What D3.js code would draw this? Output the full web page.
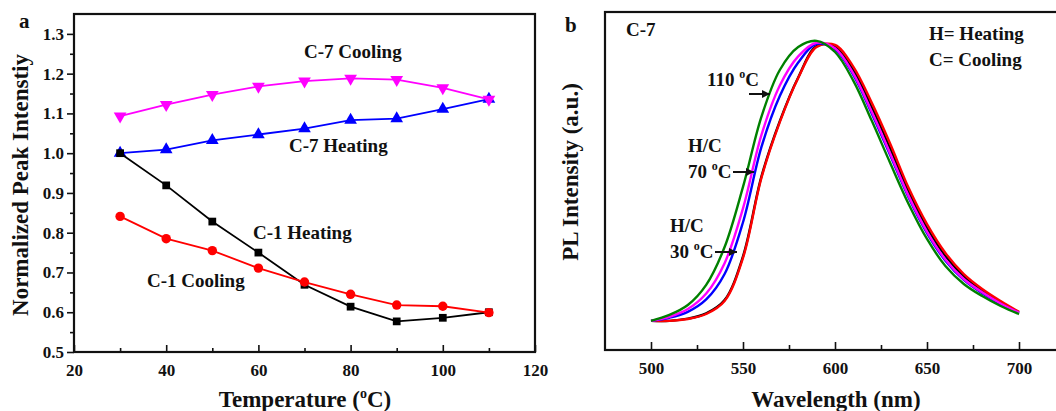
<!DOCTYPE html>
<html>
<head>
<meta charset="utf-8" />
<title>PL thermal quenching</title>
<style>
	body { margin: 0; background: #fff; }
	svg text { font-family: "Liberation Serif", "Times New Roman", serif; font-weight: bold; fill: #111; }
</style>
</head>
<body>
<svg id="chart" width="1056" height="411"></svg>
<script src="https://d3js.org/d3.v7.min.js"></script>
<script>
	// panel a - normalized peak intensity vs temperature
	var temps = [30, 40, 50, 60, 70, 80, 90, 100, 110];
	var c7Cooling = [1.093, 1.122, 1.147, 1.168, 1.181, 1.188, 1.185, 1.164, 1.135];
	var c7Heating = [1.000, 1.009, 1.032, 1.047, 1.062, 1.083, 1.087, 1.111, 1.136];
	var c1Heating = [1.000, 0.919, 0.828, 0.750, 0.669, 0.614, 0.577, 0.586, 0.600];
	var c1Cooling = [0.841, 0.785, 0.755, 0.711, 0.676, 0.645, 0.618, 0.615, 0.599];
	var tempTicks = [20, 40, 60, 80, 100, 120];
	var tempMinor = [30, 50, 70, 90, 110];
	var peakTicks = [0.5, 0.6, 0.7, 0.8, 0.9, 1.0, 1.1, 1.2, 1.3];
	var peakMinor = [0.55, 0.65, 0.75, 0.85, 0.95, 1.05, 1.15, 1.25];

	// panel b - PL spectra of C-7
	var wavelengths = [500, 510, 520, 530, 540, 550, 560, 570, 580, 590, 600, 610, 620, 630, 640, 650, 660, 670, 680, 690, 700];
	var specBlack   = [0.094, 0.094, 0.101, 0.118, 0.161, 0.302, 0.559, 0.738, 0.879, 0.980, 0.978, 0.902, 0.783, 0.650, 0.510, 0.394, 0.303, 0.237, 0.191, 0.154, 0.121];
	var specRed     = [0.094, 0.094, 0.100, 0.116, 0.158, 0.297, 0.555, 0.735, 0.877, 0.977, 0.984, 0.913, 0.797, 0.665, 0.523, 0.406, 0.313, 0.245, 0.197, 0.158, 0.123];
	var specBlue    = [0.094, 0.104, 0.123, 0.163, 0.245, 0.412, 0.654, 0.819, 0.927, 0.987, 0.970, 0.886, 0.762, 0.628, 0.492, 0.377, 0.288, 0.226, 0.183, 0.148, 0.119];
	var specMagenta = [0.094, 0.107, 0.132, 0.182, 0.280, 0.457, 0.693, 0.853, 0.947, 0.991, 0.973, 0.891, 0.768, 0.634, 0.497, 0.382, 0.292, 0.229, 0.186, 0.150, 0.120];
	var specGreen   = [0.094, 0.113, 0.145, 0.210, 0.332, 0.526, 0.752, 0.903, 0.977, 0.997, 0.961, 0.868, 0.739, 0.603, 0.471, 0.358, 0.271, 0.213, 0.174, 0.142, 0.116];
	var waveTicks = [500, 550, 600, 650, 700];
	var waveMinor = [525, 575, 625, 675];

	var svg = d3.select("#chart");

	// ---------- panel a ----------
	var xa = d3.scaleLinear().domain([20, 120]).range([74, 535]);
	var ya = d3.scaleLinear().domain([0.5, 1.35]).range([352, 14]);
	var ga = svg.append("g");

	ga.append("g").attr("transform", "translate(0,352)")
		.call(d3.axisBottom(xa).tickValues(tempMinor).tickSizeInner(-4).tickSizeOuter(0).tickFormat(""));
	ga.append("g").attr("transform", "translate(0,352)")
		.call(d3.axisBottom(xa).tickValues(tempTicks).tickSizeInner(-7).tickSizeOuter(0).tickPadding(12));
	ga.append("g").attr("transform", "translate(74,0)")
		.call(d3.axisLeft(ya).tickValues(peakMinor).tickSizeInner(4).tickSizeOuter(0).tickFormat(""));
	ga.append("g").attr("transform", "translate(74,0)")
		.call(d3.axisLeft(ya).tickValues(peakTicks).tickSizeInner(7).tickSizeOuter(0).tickPadding(3).tickFormat(d3.format(".1f")));

	ga.selectAll(".domain").remove();
	ga.selectAll(".tick line").attr("stroke", "#111").attr("stroke-width", 1.6);
	ga.selectAll(".tick text").style("font-size", "17px");

	ga.append("rect").attr("x", 74).attr("y", 14).attr("width", 461).attr("height", 338)
		.attr("fill", "none").attr("stroke", "#111").attr("stroke-width", 2.2);

	var series = [
		{ vals: c7Heating, color: "#0000ff", sym: d3.symbolTriangle, size: 70, rot: 0 },
		{ vals: c7Cooling, color: "#ff00ff", sym: d3.symbolTriangle, size: 70, rot: 180 },
		{ vals: c1Heating, color: "#000000", sym: d3.symbolSquare, size: 60, rot: 0 },
		{ vals: c1Cooling, color: "#ff0000", sym: d3.symbolCircle, size: 70, rot: 0 }
	];

	var lineA = d3.line().x(function(d, i) { return xa(temps[i]); }).y(function(d) { return ya(d); });

	series.forEach(function(s) {
		ga.append("path").attr("d", lineA(s.vals))
			.attr("fill", "none").attr("stroke", s.color).attr("stroke-width", 1.8);
		ga.selectAll(null).data(s.vals).enter().append("path")
			.attr("d", d3.symbol().type(s.sym).size(s.size))
			.attr("transform", function(d, i) {
				return "translate(" + xa(temps[i]) + "," + ya(d) + ") rotate(" + s.rot + ")";
			})
			.attr("fill", s.color);
	});

	var labelsA = [
		{ t: "C-7 Cooling", x: 304, y: 58 },
		{ t: "C-7 Heating", x: 289, y: 152 },
		{ t: "C-1 Heating", x: 253, y: 239 },
		{ t: "C-1 Cooling", x: 147, y: 287 }
	];
	ga.selectAll(null).data(labelsA).enter().append("text")
		.attr("x", function(d) { return d.x; }).attr("y", function(d) { return d.y; })
		.style("font-size", "19px").text(function(d) { return d.t; });

	ga.append("text").attr("x", 19).attr("y", 28).style("font-size", "21px").text("a");

	ga.append("text").attr("transform", "translate(28,185) rotate(-90)")
		.attr("text-anchor", "middle").style("font-size", "23px")
		.text("Normalized Peak Intenstiy");

	var tt = ga.append("text").attr("x", 305).attr("y", 407)
		.attr("text-anchor", "middle").style("font-size", "23px");
	tt.append("tspan").text("Temperature (");
	tt.append("tspan").attr("dy", -9).style("font-size", "14px").text("o");
	tt.append("tspan").attr("dy", 9).text("C)");

	// ---------- panel b ----------
	var xb = d3.scaleLinear().domain([475, 725]).range([605, 1065]);
	var yb = d3.scaleLinear().domain([0, 1.09]).range([350, 12]);
	var gb = svg.append("g");

	gb.append("g").attr("transform", "translate(0,350)")
		.call(d3.axisBottom(xb).tickValues(waveMinor).tickSizeInner(-5).tickSizeOuter(0).tickFormat(""));
	gb.append("g").attr("transform", "translate(0,350)")
		.call(d3.axisBottom(xb).tickValues(waveTicks).tickSizeInner(-8).tickSizeOuter(0).tickPadding(12));
	gb.selectAll(".domain").remove();
	gb.selectAll(".tick line").attr("stroke", "#111").attr("stroke-width", 1.6);
	gb.selectAll(".tick text").style("font-size", "17px");

	gb.append("rect").attr("x", 605).attr("y", 12).attr("width", 460).attr("height", 338)
		.attr("fill", "none").attr("stroke", "#111").attr("stroke-width", 2.2);

	var lineB = d3.line().curve(d3.curveCatmullRom.alpha(0.5))
		.x(function(d, i) { return xb(wavelengths[i]); }).y(function(d) { return yb(d); });

	var spectra = [
		{ vals: specBlack, color: "#000000" },
		{ vals: specRed, color: "#ff0000" },
		{ vals: specBlue, color: "#0000ff" },
		{ vals: specMagenta, color: "#ff00ff" },
		{ vals: specGreen, color: "#008000" }
	];
	spectra.forEach(function(s) {
		gb.append("path").attr("d", lineB(s.vals))
			.attr("fill", "none").attr("stroke", s.color).attr("stroke-width", 2.4);
	});

	gb.append("text").attr("x", 565).attr("y", 32).style("font-size", "21px").text("b");
	gb.append("text").attr("x", 626).attr("y", 36).style("font-size", "19px").text("C-7");
	gb.append("text").attr("x", 929).attr("y", 40).style("font-size", "19px").text("H= Heating");
	gb.append("text").attr("x", 929).attr("y", 66).style("font-size", "19px").text("C= Cooling");

	function degLabel(x, y, num) {
		var t = gb.append("text").attr("x", x).attr("y", y).style("font-size", "19px");
		t.append("tspan").text(num + " ");
		t.append("tspan").attr("dy", -8).style("font-size", "12px").text("o");
		t.append("tspan").attr("dy", 8).text("C");
	}
	degLabel(707, 86, "110");
	gb.append("text").attr("x", 688).attr("y", 152).style("font-size", "19px").text("H/C");
	degLabel(688, 178, "70");
	gb.append("text").attr("x", 670).attr("y", 232).style("font-size", "19px").text("H/C");
	degLabel(670, 258, "30");

	svg.append("defs").append("marker").attr("id", "head")
		.attr("viewBox", "0 0 10 10").attr("refX", 10).attr("refY", 5)
		.attr("markerWidth", 10).attr("markerHeight", 8).attr("markerUnits", "userSpaceOnUse")
		.attr("orient", "auto")
		.append("path").attr("d", "M0,0L10,5L0,10Z").attr("fill", "#111");

	var arrows = [[749, 770, 94], [733, 754, 172], [715, 737, 252]];
	gb.selectAll(null).data(arrows).enter().append("line")
		.attr("x1", function(d) { return d[0]; }).attr("x2", function(d) { return d[1]; })
		.attr("y1", function(d) { return d[2]; }).attr("y2", function(d) { return d[2]; })
		.attr("stroke", "#111").attr("stroke-width", 2).attr("marker-end", "url(#head)");

	gb.append("text").attr("transform", "translate(578,172) rotate(-90)")
		.attr("text-anchor", "middle").style("font-size", "23px")
		.text("PL Intensity (a.u.)");
	gb.append("text").attr("x", 836).attr("y", 407)
		.attr("text-anchor", "middle").style("font-size", "23px")
		.text("Wavelength (nm)");
</script>
</body>
</html>
